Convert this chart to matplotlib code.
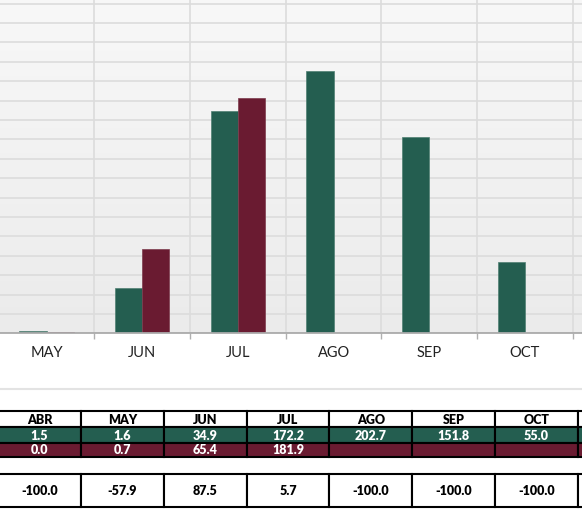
import numpy as np
import matplotlib.pyplot as plt
from matplotlib.patches import Rectangle
from matplotlib.colors import LinearSegmentedColormap
from matplotlib.lines import Line2D

# datos
meses = ['ABR', 'MAY', 'JUN', 'JUL', 'AGO', 'SEP', 'OCT', 'NOV']
actual = [1.5, 1.6, 34.9, 172.2, 202.7, 151.8, 55.0, None]
anterior = [0.0, 0.7, 65.4, 181.9, None, None, None, None]
variacion = [-100.0, -57.9, 87.5, 5.7, -100.0, -100.0, -100.0, None]

VERDE = '#245e50'
GUINDA = '#6a1b31'
FUENTE = ['Lato', 'DejaVu Sans']

W, H = 582, 512
fig = plt.figure(figsize=(W / 100, H / 100), dpi=100)

# --- grafica de barras ---
base_px = 333.3
ax = fig.add_axes([0, (H - base_px) / H, 1, base_px / H])
x = np.arange(len(meses))
ancho = 0.285
a = [np.nan if v is None else v for v in actual]
b = [np.nan if v is None else v for v in anterior]
ax.bar(x - ancho / 2, a, ancho, color=VERDE, edgecolor='#4f7f72', linewidth=0.5, zorder=3)
ax.bar(x + ancho / 2, b, ancho, color=GUINDA, edgecolor='#7d3a4c', linewidth=0.5, zorder=3)

xlim = (0.514, 6.596)
ylim = (0, 257.8)

# fondo degradado
grad = np.linspace(0, 1, 256).reshape(-1, 1)
cm = LinearSegmentedColormap.from_list('fondo', ['#ebebeb', '#f8f8f8'])
ax.imshow(grad, extent=[xlim[0], xlim[1], ylim[0], ylim[1]], origin='lower',
          aspect='auto', cmap=cm, zorder=0)

ax.set_yticks(np.arange(0, 256, 15))
ax.tick_params(axis='y', length=0, labelleft=False)
ax.set_xticks(x[1:7])
ax.set_xticklabels(meses[1:7], fontsize=10.5, family=FUENTE, color='#222222')
ax.set_xticks(x + 0.5, minor=True)
ax.tick_params(axis='x', which='major', length=0, pad=9)
ax.tick_params(axis='x', which='minor', length=4, color='#b0b0b0', width=1)
ax.grid(axis='y', color='#dcdcdc', linewidth=1.2, zorder=1)
ax.grid(axis='x', which='minor', color='#dcdcdc', linewidth=1.2, zorder=1)
for s in ['top', 'left', 'right']:
    ax.spines[s].set_visible(False)
ax.spines['bottom'].set_color('#ababab')
ax.spines['bottom'].set_linewidth(1.3)
ax.spines['bottom'].set_zorder(4)
# limites al final (set_xticks los expande)
ax.set_xlim(*xlim)
ax.set_ylim(*ylim)

# linea separadora
fig.add_artist(Line2D([0, 1], [(H - 389) / H] * 2, color='#e3e3e3', linewidth=1.5))

# --- tabla ---
tx0, tx1 = 0.022, 7.05
tax = fig.add_axes([0, 0, 1, 112 / H])
tax.axis('off')

filas = [
    (411, 427, 'white', 'black', meses, None),
    (427, 443, VERDE, 'white', actual, '{:.1f}'),
    (443, 457, GUINDA, 'white', anterior, '{:.1f}'),
    (474, 507, 'white', 'black', variacion, '{:.1f}'),
]
for y0, y1, fondo, color_txt, valores, fmt in filas:
    for k, v in enumerate(valores):
        tax.add_patch(Rectangle((k, y0), 1, y1 - y0, facecolor=fondo,
                                edgecolor='black', linewidth=1.5, zorder=2))
        if v is None or k + 0.5 > tx1:
            continue
        txt = v if fmt is None else fmt.format(v)
        tax.text(k + 0.5, (y0 + y1) / 2 + 0.5, txt, ha='center', va='center',
                 fontsize=9, fontweight='heavy', family=FUENTE, color=color_txt, zorder=3)
tax.set_xlim(tx0, tx1)
tax.set_ylim(512, 400)

fig.savefig('out.png', dpi=100)
